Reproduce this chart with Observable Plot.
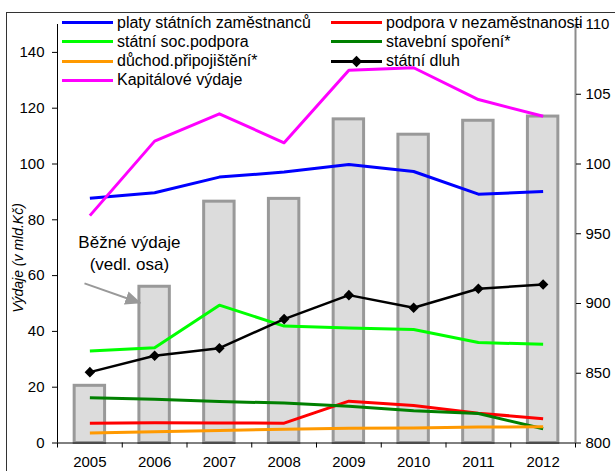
<!DOCTYPE html>
<html>
<head>
<meta charset="utf-8">
<script src="https://cdn.jsdelivr.net/npm/d3@7"></script>
<script src="https://cdn.jsdelivr.net/npm/@observablehq/plot@0.6"></script>
<style>
  html, body { margin: 0; padding: 0; background: #fff; }
  #wrap { position: relative; width: 615px; height: 471px; overflow: hidden; font-family: "Liberation Sans", Arial, sans-serif; color: #000; }
  #frame { position: absolute; left: 6px; top: 12px; width: 700px; height: 600px; border: 1px solid #333; box-sizing: border-box; pointer-events: none; }
  #chart { position: absolute; left: 0; top: 0; }
  .leg { position: absolute; height: 19px; display: flex; align-items: center; font-size: 16px; white-space: nowrap; }
  .leg svg { margin-right: 4px; }
  #ytitle { position: absolute; left: 18px; top: 258px; transform: translate(-50%, -50%) rotate(-90deg); font-size: 14px; font-style: italic; white-space: nowrap; }
</style>
</head>
<body>
<div id="wrap">
  <div id="frame"></div>
  <div id="chart"></div>
  <div id="ytitle">Výdaje (v mld.Kč)</div>
</div>
<script>
// ---- data ----
const years = [2005, 2006, 2007, 2008, 2009, 2010, 2011, 2012];
const platy = [87.7, 89.7, 95.3, 97.1, 99.8, 97.3, 89.2, 90.1];          // platy státních zaměstnanců
const nezam = [7.1, 7.3, 7.2, 7.1, 15.0, 13.4, 10.7, 8.7];              // podpora v nezaměstnanosti
const socPodpora = [33.0, 34.1, 49.4, 41.9, 41.2, 40.7, 36.0, 35.4];    // státní soc.podpora
const stavebni = [16.2, 15.7, 14.9, 14.3, 13.2, 11.6, 10.6, 5.1];       // stavební spoření*
const duchod = [3.6, 4.0, 4.5, 4.9, 5.3, 5.4, 5.7, 5.8];                // důchod.připojištění*
const dluh = [25.4, 31.3, 34.0, 44.4, 53.0, 48.5, 55.3, 56.8];          // státní dluh
const kapital = [81.5, 108.2, 118.0, 107.6, 133.6, 134.5, 123.1, 117.1];// Kapitálové výdaje
const bezne = [841, 912, 973, 975, 1032, 1021, 1031, 1034];             // Běžné výdaje (vedl. osa)

const leftTicks = [0, 20, 40, 60, 80, 100, 120, 140];
const rightTicks = [800, 850, 900, 950, 1000, 1050, 1100];
const rightTickLabels = ["800", "850", "900", "950", "100", "105", "110"];
const xBoundaries = [2004.5, 2005.5, 2006.5, 2007.5, 2008.5, 2009.5, 2010.5, 2011.5, 2012.5];

const seriesNames = ["platy státních zaměstnanců", "podpora v nezaměstnanosti", "státní soc.podpora",
  "stavební spoření*", "důchod.připojištění*", "státní dluh", "Kapitálové výdaje"];
const seriesColors = ["#0000ff", "#ff0000", "#00ff00", "#008000", "#ff9900", "#000000", "#ff00ff"];
const seriesValues = [platy, nezam, socPodpora, stavebni, duchod, dluh, kapital];

const annotText = ["Běžné výdaje\n(vedl. osa)"];
const annotPos = [{x: 2005.61, y: 68.6}];
const arrowPos = [{x1: 2004.917, y1: 57.2, x2: 2005.78, y2: 50.2}];

// ---- derived ----
const leftMax = 150, rightMin = 800, rightMax = 1100;
const toLeft = v => (v - rightMin) / (rightMax - rightMin) * leftMax;
const barHalf = 0.235;
const bars = years.map((yr, i) => ({year: yr, v: toLeft(bezne[i])}));
const lineData = [];
seriesNames.forEach((name, s) => years.forEach((yr, i) => lineData.push({series: name, year: yr, v: seriesValues[s][i]})));
const rightLabelMap = new Map(rightTicks.map((t, i) => [toLeft(t), rightTickLabels[i]]));

const lineMarks = seriesNames.map((name, s) =>
  Plot.line(lineData.filter(d => d.series === name), {
    x: "year", y: "v", stroke: seriesColors[s],
    strokeWidth: name === "státní dluh" ? 2.5 : 3, strokeLinejoin: "round", strokeLinecap: "butt"
  })
);

const chart = Plot.plot({
  width: 615, height: 471,
  marginLeft: 57, marginRight: 40, marginTop: 24, marginBottom: 28.5,
  style: {fontFamily: '"Liberation Sans", Arial, sans-serif', fontSize: "15px", color: "#000", background: "transparent", overflow: "visible"},
  x: {domain: [2004.5, 2012.5], label: null, axis: null},
  y: {domain: [0, leftMax], label: null, axis: null},
  marks: [
    Plot.rectY(bars, {x1: d => d.year - barHalf, x2: d => d.year + barHalf, y1: 0, y2: "v",
      fill: "#dcdcdc", stroke: "#999999", strokeWidth: 3}),
    ...lineMarks,
    Plot.dot(lineData.filter(d => d.series === "státní dluh"), {x: "year", y: "v", symbol: "square", rotate: 45, r: 4.2, fill: "#000", stroke: "none"}),
    Plot.ruleX([2004.5], {stroke: "#000", strokeWidth: 1}),
    Plot.ruleX([2012.5], {stroke: "#8c8c8c", strokeWidth: 2}),
    Plot.ruleY([0], {stroke: "#000", strokeWidth: 1}),
    Plot.axisY(leftTicks, {anchor: "left", tickSize: 5, tickPadding: 8, label: null}),
    Plot.axisY(rightTicks.map(toLeft), {anchor: "right", tickSize: 5, tickPadding: 5, label: null, tickFormat: d => rightLabelMap.get(d)}),
    Plot.axisX(xBoundaries, {anchor: "bottom", tickSize: 5, tickFormat: () => "", label: null}),
    Plot.axisX(years, {anchor: "bottom", tickSize: 0, tickPadding: 13, tickFormat: d => String(d), label: null}),
    Plot.link(arrowPos, {x1: "x1", y1: "y1", x2: "x2", y2: "y2", stroke: "#999999", strokeWidth: 2, className: "annot-arrow"}),
    Plot.text(annotText, {x: () => annotPos[0].x, y: () => annotPos[0].y, text: d => d, fontSize: 17, lineHeight: 1.3, textAnchor: "middle", fill: "#000"})
  ]
});

// filled arrowhead
const svg = d3.select(chart);
const defs = svg.insert("defs", ":first-child");
defs.append("marker").attr("id", "ahead").attr("viewBox", "0 0 16 14").attr("markerWidth", 16).attr("markerHeight", 14)
  .attr("markerUnits", "userSpaceOnUse").attr("refX", 15).attr("refY", 7).attr("orient", "auto")
  .append("path").attr("d", "M0,0 L16,7 L0,14 Z").attr("fill", "#999999");
svg.selectAll(".annot-arrow path").attr("marker-end", "url(#ahead)");

document.getElementById("chart").appendChild(chart);

// legend (HTML)
const wrap = document.getElementById("wrap");
const legendLayout = [
  {name: "platy státních zaměstnanců", col: 0, row: 0},
  {name: "státní soc.podpora", col: 0, row: 1},
  {name: "důchod.připojištění*", col: 0, row: 2},
  {name: "Kapitálové výdaje", col: 0, row: 3},
  {name: "podpora v nezaměstnanosti", col: 1, row: 0},
  {name: "stavební spoření*", col: 1, row: 1},
  {name: "státní dluh", col: 1, row: 2}
];
const colX = [62, 331], rowY0 = 22.7, rowStep = 19.2;
legendLayout.forEach(item => {
  const s = seriesNames.indexOf(item.name);
  const div = document.createElement("div");
  div.className = "leg";
  div.style.left = colX[item.col] + "px";
  div.style.top = (rowY0 + item.row * rowStep - 9.5) + "px";
  const color = seriesColors[s];
  const marker = item.name === "státní dluh"
    ? `<rect x="21.5" y="5.5" width="8" height="8" fill="#000" transform="rotate(45 25.5 9.5)"/>` : "";
  div.innerHTML = `<svg width="51" height="19"><line x1="0" x2="51" y1="9.5" y2="9.5" stroke="${color}" stroke-width="3"/>${marker}</svg><span>${item.name}</span>`;
  wrap.appendChild(div);
});
</script>
</body>
</html>
